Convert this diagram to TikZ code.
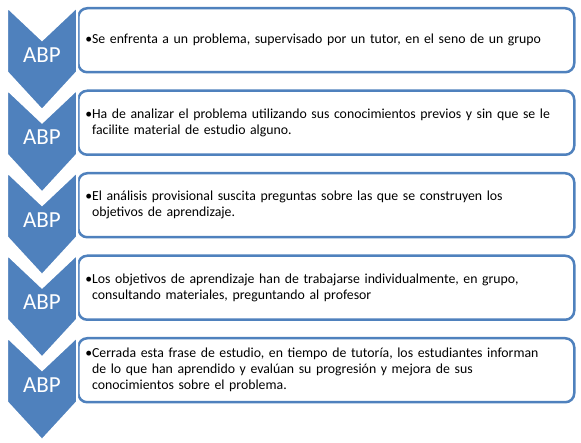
\documentclass[tikz,border=0pt]{standalone}
\usepackage{fontspec}
\setmainfont{Carlito}
\definecolor{abpblue}{HTML}{4F81BD}

\begin{document}
\begin{tikzpicture}[x=1pt,y=-1pt,
    box/.style={draw=abpblue, line width=2.5pt, rounded corners=9pt, fill=white,
        anchor=north west, minimum width=496pt, minimum height=64pt,
        text width=482pt, inner xsep=7pt, align=left,
        font=\fontsize{13.8}{16}\selectfont},
    chevron/.style={fill=abpblue, draw=white, line width=2pt},
    abp/.style={text=white, font=\fontsize{23}{26}\selectfont}]
    \useasboundingbox (0,0) rectangle (581,443);

    \node[box] (txt1) at (77,7) {\textbullet Se enfrenta a un problema, supervisado por un tutor, en el seno de un grupo};
    \node[box] (txt2) at (77,89.5) {\textbullet Ha de analizar el problema utilizando sus conocimientos previos y sin que se le\\\phantom{\textbullet}facilite material de estudio alguno.};
    \node[box] (txt3) at (77,172) {\textbullet El análisis provisional suscita preguntas sobre las que se construyen los\\\phantom{\textbullet}objetivos de aprendizaje.};
    \node[box] (txt4) at (77,254.5) {\textbullet Los objetivos de aprendizaje han de trabajarse individualmente, en grupo,\\\phantom{\textbullet}consultando materiales, preguntando al profesor};
    \node[box] (txt5) at (77,337) {\textbullet Cerrada esta frase de estudio, en tiempo de tutoría, los estudiantes informan\\\phantom{\textbullet}de lo que han aprendido y evalúan su progresión y mejora de sus\\\phantom{\textbullet}conocimientos sobre el problema.};

    \draw[chevron] (7,337) -- (42,370) -- (77,337) -- (77,402) -- (42,440) -- (7,402) -- cycle;
    \draw[chevron] (7,254.5) -- (42,287.5) -- (77,254.5) -- (77,319.5) -- (42,357.5) -- (7,319.5) -- cycle;
    \draw[chevron] (7,172) -- (42,205) -- (77,172) -- (77,237) -- (42,275) -- (7,237) -- cycle;
    \draw[chevron] (7,89.5) -- (42,122.5) -- (77,89.5) -- (77,154.5) -- (42,192.5) -- (7,154.5) -- cycle;
    \draw[chevron] (7,7) -- (42,40) -- (77,7) -- (77,72) -- (42,110) -- (7,72) -- cycle;

    \node[abp] (abp1) at (42,55) {ABP};
    \node[abp] (abp2) at (42,137.5) {ABP};
    \node[abp] (abp3) at (42,220) {ABP};
    \node[abp] (abp4) at (42,302.5) {ABP};
    \node[abp] (abp5) at (42,385) {ABP};
\end{tikzpicture}
\end{document}
